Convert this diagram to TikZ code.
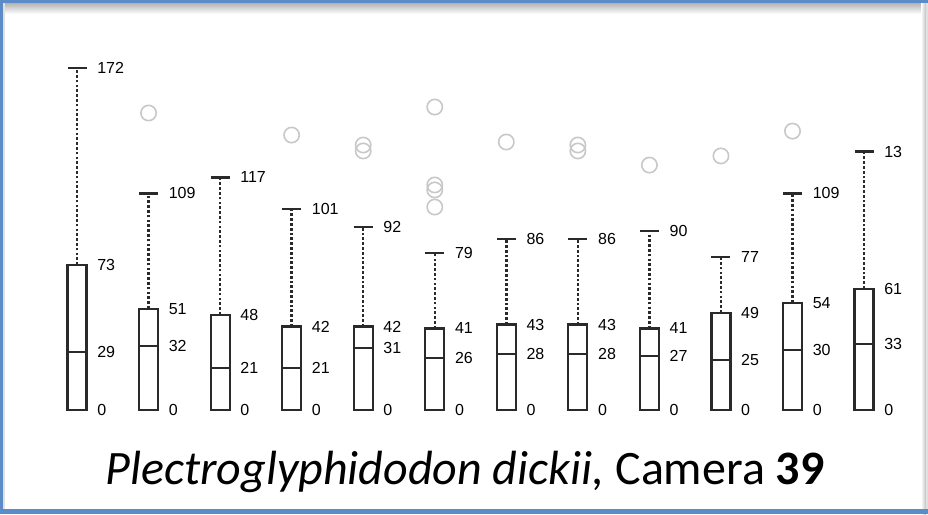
\documentclass[tikz,border=0pt]{standalone}
\usepackage{fontspec}
\setmainfont{Carlito}
\newfontfamily\numfont{Liberation Sans}
\usetikzlibrary{positioning}
\definecolor{frameblue}{HTML}{5B8CC8}
\definecolor{outgray}{HTML}{C8C8C8}
\definecolor{boxgray}{HTML}{2A2A2A}
\tikzstyle{boxline} = [draw=boxgray, line width=1.6pt]
\tikzstyle{capline} = [draw=boxgray, line width=1.9pt]
\tikzstyle{whisk} = [draw=boxgray, line width=1.8pt, dash pattern=on 2pt off 1.6pt]
\tikzstyle{lbl} = [font=\numfont\fontsize{12}{12}\selectfont, anchor=west, inner sep=0pt]
\tikzstyle{outl} = [draw=outgray, circle, line width=1.2pt, minimum size=11.5pt, inner sep=0pt]
\newcommand{\bx}[1]{77+71.55*(#1-1)}

\begin{document}
\begin{tikzpicture}[x=0.75pt, y=0.75pt]
  % frame
  \fill[white] (0,0) rectangle (928,514);
  \shade[top color=black!30, bottom color=white] (0,500) rectangle (928,511);
  \shade[left color=white, right color=black!25] (921,0) rectangle (926,514);
  \fill[black!12] (926,0) rectangle (928,514);
  \fill[black!12] (2.5,0) rectangle (4.5,514);
  \fill[frameblue] (0,511) rectangle (928,514);
  \fill[frameblue] (0,0) rectangle (2.5,514);
  \fill[frameblue] (0,0) rectangle (928,5.5);
  \useasboundingbox (0,0) rectangle (928,514);

  \begin{scope}[shift={(0,104)}, y=1.491pt]
    % boxes: upper quartile / median / whisker / whisker label
    \foreach \q/\m/\w/\wl [count=\i] in {73/29/172/172, 51/32/109/109,
        48/21/117/117, 42/21/101/101, 42/31/92/92, 41/26/79/79,
        43/28/86/86, 43/28/86/86, 41/27/90/90, 49/25/77/77,
        54/30/109/109, 61/33/130/13} {
      \pgfmathsetmacro\xc{\bx{\i}}
      \draw[whisk] (\xc,\q) -- (\xc,\w);
      \draw[capline] (\xc-9.5,\w) -- (\xc+9.5,\w);
      \draw[boxline, fill=white] (\xc-9.5,0) rectangle (\xc+9.5,\q);
      \draw[boxline] (\xc-9.5,\m) -- (\xc+9.5,\m);
      \draw[capline] (\xc-9.5,0) -- (\xc+9.5,0);
      \node[lbl] (lo\i) at (\xc+20,0) {0};
      \node[lbl] (md\i) at (\xc+20,\m) {\m};
      \node[lbl] (up\i) at (\xc+20,\q) {\q};
      \node[lbl] (hi\i) at (\xc+20,\w) {\wl};
    }
    % outliers
    \foreach \i/\v [count=\k] in {2/149.4, 4/138.3, 5/133.3, 5/130.3,
        6/152.4, 6/113.2, 6/110.7, 6/102.1, 7/134.8, 8/133.3, 8/130.3,
        9/123.2, 10/127.8, 11/140.3}
      \node[outl] (o\k) at ({\bx{\i}},\v) {};
  \end{scope}

  \node[font=\fontsize{36}{40}\selectfont, anchor=base] (cap) at (465,29)
    {\textit{Plectroglyphidodon dickii,}\ Camera \textbf{39}};
\end{tikzpicture}
\end{document}
